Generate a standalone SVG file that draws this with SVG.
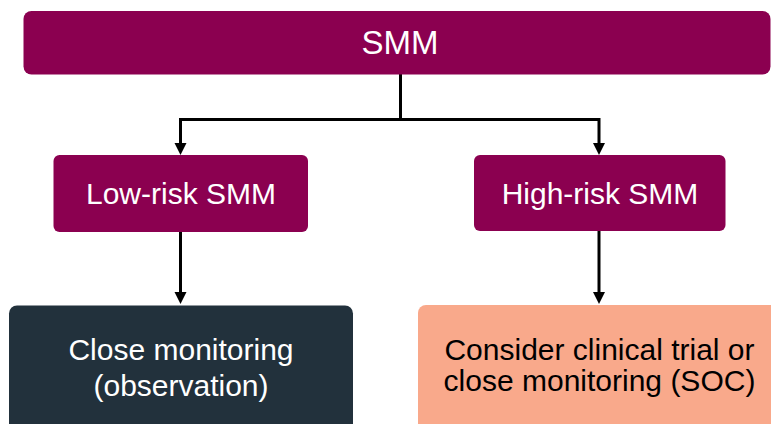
<svg xmlns="http://www.w3.org/2000/svg" width="771" height="424" viewBox="0 0 771 424">
<defs>
<marker id="ah" viewBox="0 0 12 11" refX="6" refY="11" markerWidth="12" markerHeight="11" markerUnits="userSpaceOnUse" orient="auto-start-reverse">
<path d="M0,0 L12,0 L6,11 Z" fill="#000"/>
</marker>
<style>
.mag{fill:#8B0050}
.t{font-family:"Liberation Sans",Arial,sans-serif;text-anchor:middle;font-size:30px}
.w{fill:#fff}
.k{fill:#000}
.c{fill:none;stroke:#000;stroke-width:3}
</style>
</defs>
<rect width="771" height="424" fill="#fff"/>
<g id="connectors">
<path class="c" d="M400.5,74 V119.5 H180.5 V144"/>
<path class="c" d="M400.5,119.5 H599 V144"/>
<path d="M174.5,143 L186.5,143 L180.5,155 Z" fill="#000"/>
<path d="M593,143 L605,143 L599,155 Z" fill="#000"/>
<path class="c" d="M180.5,232 V293"/>
<path class="c" d="M599,231 V293"/>
<path d="M174.5,292 L186.5,292 L180.5,304 Z" fill="#000"/>
<path d="M593,292 L605,292 L599,304 Z" fill="#000"/>
</g>
<g id="smm">
<rect class="mag" x="23.5" y="11" width="747" height="63.5" rx="8"/>
<text class="t w" x="400" y="54" style="font-size:33px">SMM</text>
</g>
<g id="low-risk">
<rect class="mag" x="53.5" y="155" width="254.5" height="77" rx="6"/>
<text class="t w" x="181" y="204">Low-risk SMM</text>
</g>
<g id="high-risk">
<rect class="mag" x="474" y="155" width="251.5" height="76" rx="6"/>
<text class="t w" x="600" y="204">High-risk SMM</text>
</g>
<g id="close-monitoring">
<rect x="9" y="305.5" width="344" height="140" rx="8" fill="#22313C"/>
<text class="t w" x="181" y="360">Close monitoring</text>
<text class="t w" x="181" y="396">(observation)</text>
</g>
<g id="clinical-trial">
<rect x="418" y="305" width="370" height="140" rx="8" fill="#F9A98B"/>
<text class="t k" x="599.5" y="360">Consider clinical trial or</text>
<text class="t k" x="599.5" y="391">close monitoring (SOC)</text>
</g>
</svg>
